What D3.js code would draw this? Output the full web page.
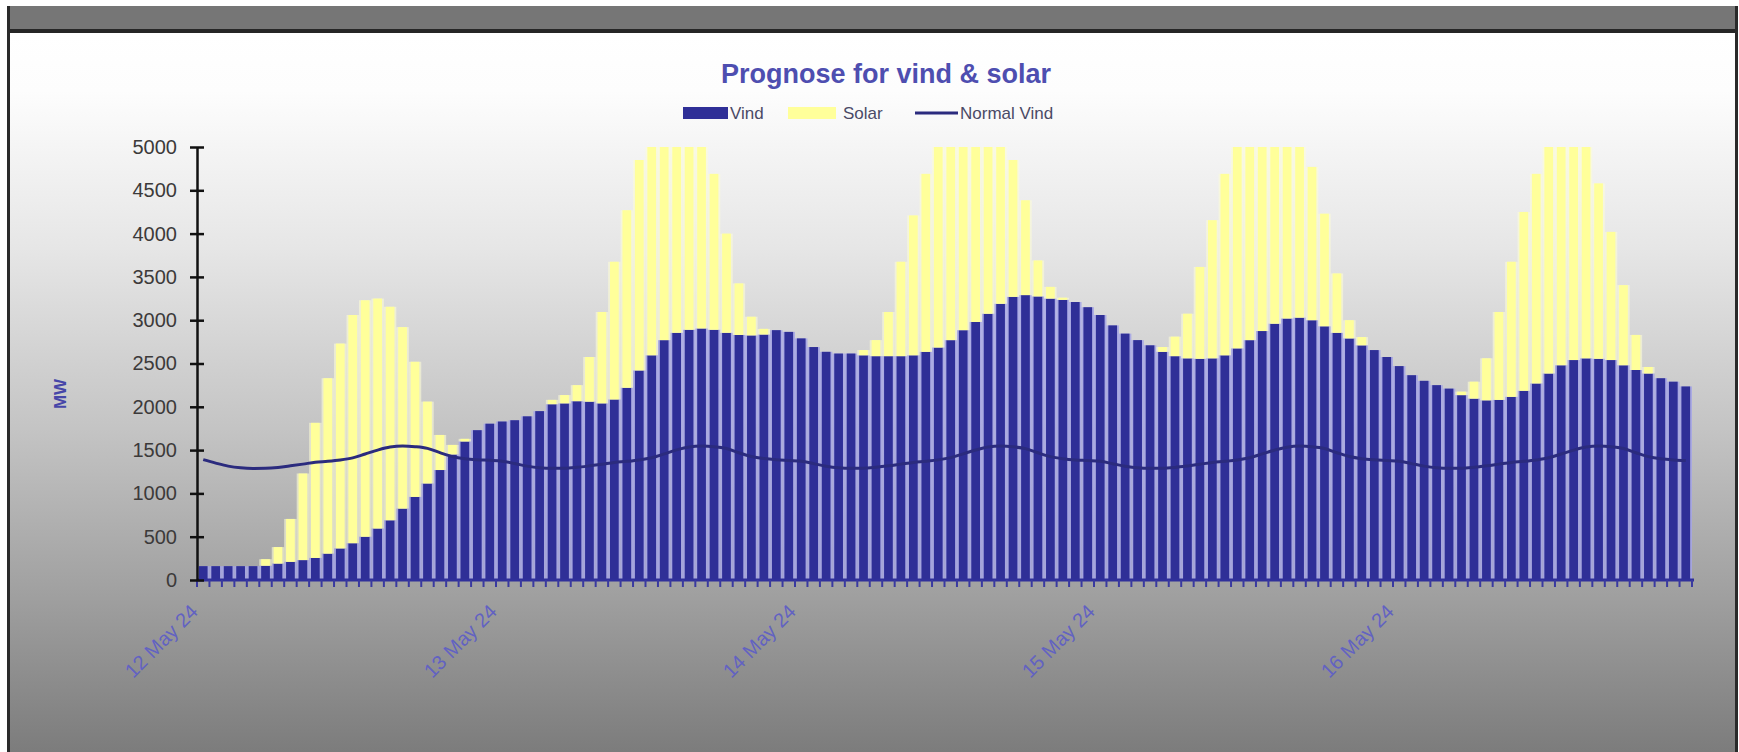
<!DOCTYPE html>
<html>
<head>
<meta charset="utf-8">
<script src="https://cdn.jsdelivr.net/npm/d3@7/dist/d3.min.js"></script>
<style>
  html, body { margin: 0; padding: 0; background: #ffffff; }
  svg { display: block; font-family: "Liberation Sans", Arial, sans-serif; }
</style>
</head>
<body>
<svg id="chart" width="1739" height="752"></svg>
<script>
// Hourly forecast, 12 May 24 00:00 to 16 May 24 23:00 (MW)
const dayLabels = ["12 May 24", "13 May 24", "14 May 24", "15 May 24", "16 May 24"];
const hours = d3.timeHour.range(new Date(2024, 4, 12, 0), new Date(2024, 4, 17, 0));

const vind = [
  160, 160, 160, 160, 160, 165, 190, 210, 230, 255, 305, 365,
  425, 500, 595, 690, 825, 960, 1115, 1270, 1450, 1600, 1730, 1805,
  1830, 1845, 1890, 1950, 2030, 2040, 2065, 2060, 2040, 2085, 2220, 2420,
  2595, 2770, 2855, 2890, 2905, 2890, 2855, 2830, 2825, 2835, 2885, 2865,
  2790, 2690, 2635, 2615, 2615, 2595, 2585, 2585, 2585, 2595, 2635, 2685,
  2770, 2885, 2980, 3075, 3190, 3270, 3290, 3275, 3250, 3235, 3210, 3150,
  3060, 2940, 2845, 2770, 2710, 2635, 2585, 2560, 2555, 2560, 2595, 2675,
  2770, 2875, 2960, 3020, 3030, 3000, 2930, 2855, 2790, 2710, 2655, 2575,
  2470, 2365, 2300, 2250, 2210, 2135, 2095, 2075, 2080, 2115, 2185, 2270,
  2385, 2480, 2540, 2560, 2555, 2540, 2480, 2425, 2385, 2330, 2290, 2235
];

const solar = [
  0, 0, 0, 0, 0, 75, 190, 495, 1000, 1560, 2025, 2365,
  2635, 2730, 2655, 2465, 2095, 1560, 945, 405, 110, 30, 0, 0,
  0, 0, 0, 0, 50, 95, 185, 515, 1055, 1590, 2050, 2430,
  2650, 2850, 2900, 2800, 2450, 1800, 1145, 595, 215, 65, 0, 0,
  0, 0, 0, 0, 0, 60, 185, 510, 1090, 1615, 2055, 2450,
  2700, 2850, 2900, 2800, 2450, 1580, 1095, 415, 135, 25, 0, 0,
  0, 0, 0, 0, 0, 55, 225, 515, 1060, 1595, 2095, 2500,
  2750, 2850, 2800, 2650, 2300, 1770, 1300, 685, 210, 95, 0, 0,
  0, 0, 0, 0, 0, 40, 195, 485, 1015, 1560, 2065, 2420,
  2650, 2700, 2650, 2500, 2025, 1480, 925, 405, 75, 0, 0, 0
];

const normalVind = [
  1390, 1350, 1315, 1295, 1288, 1290, 1300, 1318, 1338, 1360, 1370, 1385,
  1410, 1455, 1500, 1535, 1548, 1540, 1520, 1470, 1425, 1400, 1388, 1382,
  1372, 1345, 1315, 1296, 1289, 1290, 1301, 1318, 1337, 1358, 1370, 1386,
  1412, 1456, 1502, 1536, 1547, 1540, 1518, 1470, 1426, 1402, 1388, 1380,
  1372, 1344, 1314, 1296, 1290, 1291, 1302, 1318, 1338, 1358, 1371, 1387,
  1413, 1457, 1501, 1535, 1546, 1538, 1517, 1469, 1425, 1401, 1387, 1380,
  1371, 1343, 1314, 1295, 1289, 1290, 1300, 1317, 1337, 1357, 1370, 1386,
  1412, 1456, 1500, 1534, 1546, 1539, 1518, 1470, 1426, 1401, 1388, 1380,
  1372, 1344, 1315, 1296, 1289, 1290, 1301, 1318, 1338, 1358, 1370, 1386,
  1411, 1455, 1500, 1535, 1547, 1540, 1518, 1470, 1425, 1400, 1387, 1380
];

const yTicks = [0, 500, 1000, 1500, 2000, 2500, 3000, 3500, 4000, 4500, 5000];

const W = 1739, H = 752;
const plot = { left: 197, right: 1692, top: 147, bottom: 580 };

const svg = d3.select("#chart");
const defs = svg.append("defs");

// Backdrop: white-to-grey vertical gradient under a dark title strip
const grad = defs.append("linearGradient")
  .attr("id", "bg").attr("x1", 0).attr("y1", 0).attr("x2", 0).attr("y2", 1);
[[0, "#ffffff"], [0.08, "#fdfdfd"], [0.3, "#e6e6e6"], [0.55, "#c4c4c4"],
 [0.78, "#a0a0a0"], [1, "#7c7c7c"]]
  .forEach(([o, c]) => grad.append("stop").attr("offset", o).attr("stop-color", c));

svg.append("rect").attr("width", W).attr("height", H).attr("fill", "#ffffff");
svg.append("rect").attr("x", 8).attr("y", 33).attr("width", 1729).attr("height", H - 33)
  .attr("fill", "url(#bg)");
svg.append("rect").attr("x", 8).attr("y", 6).attr("width", 1729).attr("height", 25)
  .attr("fill", "#767676");
svg.append("rect").attr("x", 8).attr("y", 29).attr("width", 1729).attr("height", 4)
  .attr("fill", "#262626");
svg.append("rect").attr("x", 7).attr("y", 6).attr("width", 3).attr("height", H - 6)
  .attr("fill", "#2a2a2a");
svg.append("rect").attr("x", 1735).attr("y", 6).attr("width", 3).attr("height", H - 6)
  .attr("fill", "#2a2a2a");

defs.append("clipPath").attr("id", "plotClip")
  .append("rect").attr("x", plot.left).attr("y", plot.top)
  .attr("width", plot.right - plot.left + 2).attr("height", plot.bottom - plot.top);

// Scales
const x = d3.scaleBand().domain(hours).range([plot.left, plot.right]).padding(0);
const y = d3.scaleLinear().domain([0, 5000]).range([plot.bottom, plot.top]);
const bw = x.bandwidth();
const core = bw * 0.7;

const rows = hours.map((h, i) => ({ h, vind: vind[i], solar: solar[i], normal: normalVind[i] }));
const stack = d3.stack().keys(["vind", "solar"])(rows);

const colors = { vind: "#2f2f97", solar: "#ffff9a" };
const glow = { vind: "#a4a4e6", solar: "#fbfbd6" };

const barsG = svg.append("g").attr("clip-path", "url(#plotClip)");
stack.forEach(layer => {
  const g = barsG.append("g");
  // soft halo filling the slot between bars
  g.selectAll("rect.halo").data(layer).join("rect")
    .attr("class", "halo")
    .attr("x", d => x(d.data.h))
    .attr("width", bw)
    .attr("y", d => y(d[1]))
    .attr("height", d => Math.max(0, y(d[0]) - y(d[1])))
    .attr("fill", glow[layer.key])
    .attr("opacity", layer.key === "vind" ? 0.85 : 0.6);
  g.selectAll("rect.core").data(layer).join("rect")
    .attr("class", "core")
    .attr("x", d => x(d.data.h) + (bw - core) / 2)
    .attr("width", core)
    .attr("y", d => y(d[1]))
    .attr("height", d => Math.max(0, y(d[0]) - y(d[1])))
    .attr("fill", colors[layer.key]);
});

// Normal wind line
const line = d3.line()
  .x(d => x(d.h) + bw / 2)
  .y(d => y(d.normal))
  .curve(d3.curveMonotoneX);
svg.append("path").datum(rows)
  .attr("d", line)
  .attr("fill", "none")
  .attr("stroke", "#2b2b7e")
  .attr("stroke-width", 3);

// X axis: baseline, hourly ticks, rotated day labels
const xAxisG = svg.append("g").attr("transform", `translate(0,${plot.bottom})`);
xAxisG.append("line")
  .attr("x1", plot.left).attr("x2", plot.right + 2)
  .attr("stroke", "#30309a").attr("stroke-width", 3);
xAxisG.selectAll("line.hr").data(hours.concat([null])).join("line")
  .attr("class", "hr")
  .attr("x1", (d, i) => i < hours.length ? x(d) : plot.right)
  .attr("x2", (d, i) => i < hours.length ? x(d) : plot.right)
  .attr("y1", 0).attr("y2", 7)
  .attr("stroke", "#3a3aa0").attr("stroke-width", 2);

const dayStarts = hours.filter(h => h.getHours() === 0);
xAxisG.selectAll("text.day").data(dayStarts).join("text")
  .attr("class", "day")
  .attr("transform", (d, i) => `translate(${x(d) + bw / 2 - 4},${33}) rotate(-45)`)
  .attr("text-anchor", "end")
  .attr("font-size", 20)
  .attr("fill", "#6262c2")
  .text((d, i) => dayLabels[i]);

// Y axis with crossing ticks
const yAxis = d3.axisLeft(y).tickValues(yTicks).tickSize(0).tickPadding(20)
  .tickFormat(d3.format("d"));
const yAxisG = svg.append("g").attr("transform", `translate(${plot.left},0)`).call(yAxis);
yAxisG.select(".domain").attr("stroke", "#111").attr("stroke-width", 2.5);
yAxisG.selectAll(".tick text")
  .attr("font-size", 20).attr("fill", "#3c3a3a")
  .attr("font-family", "'Liberation Sans', Arial, sans-serif");
yAxisG.selectAll(".tick").append("line")
  .attr("x1", -7).attr("x2", 7)
  .attr("stroke", "#111").attr("stroke-width", 2.5);

svg.append("text")
  .attr("transform", `translate(66,394) rotate(-90)`)
  .attr("text-anchor", "middle")
  .attr("font-size", 17).attr("font-weight", "bold")
  .attr("fill", "#4646a8")
  .text("MW");

// Title
svg.append("text")
  .attr("x", 886).attr("y", 83)
  .attr("text-anchor", "middle")
  .attr("font-size", 27).attr("font-weight", "bold")
  .attr("fill", "#4e4eb0")
  .text("Prognose for vind & solar");

// Legend
const leg = svg.append("g");
leg.append("rect").attr("x", 683).attr("y", 107).attr("width", 45).attr("height", 12)
  .attr("fill", colors.vind);
leg.append("text").attr("x", 730).attr("y", 119).attr("font-size", 17)
  .attr("fill", "#4a4a66").text("Vind");
leg.append("rect").attr("x", 788).attr("y", 107).attr("width", 48).attr("height", 12)
  .attr("fill", colors.solar);
leg.append("text").attr("x", 843).attr("y", 119).attr("font-size", 17)
  .attr("fill", "#4a4a66").text("Solar");
leg.append("line").attr("x1", 915).attr("x2", 958).attr("y1", 113).attr("y2", 113)
  .attr("stroke", "#2b2b7e").attr("stroke-width", 3);
leg.append("text").attr("x", 960).attr("y", 119).attr("font-size", 17)
  .attr("fill", "#4a4a66").text("Normal Vind");
</script>
</body>
</html>
